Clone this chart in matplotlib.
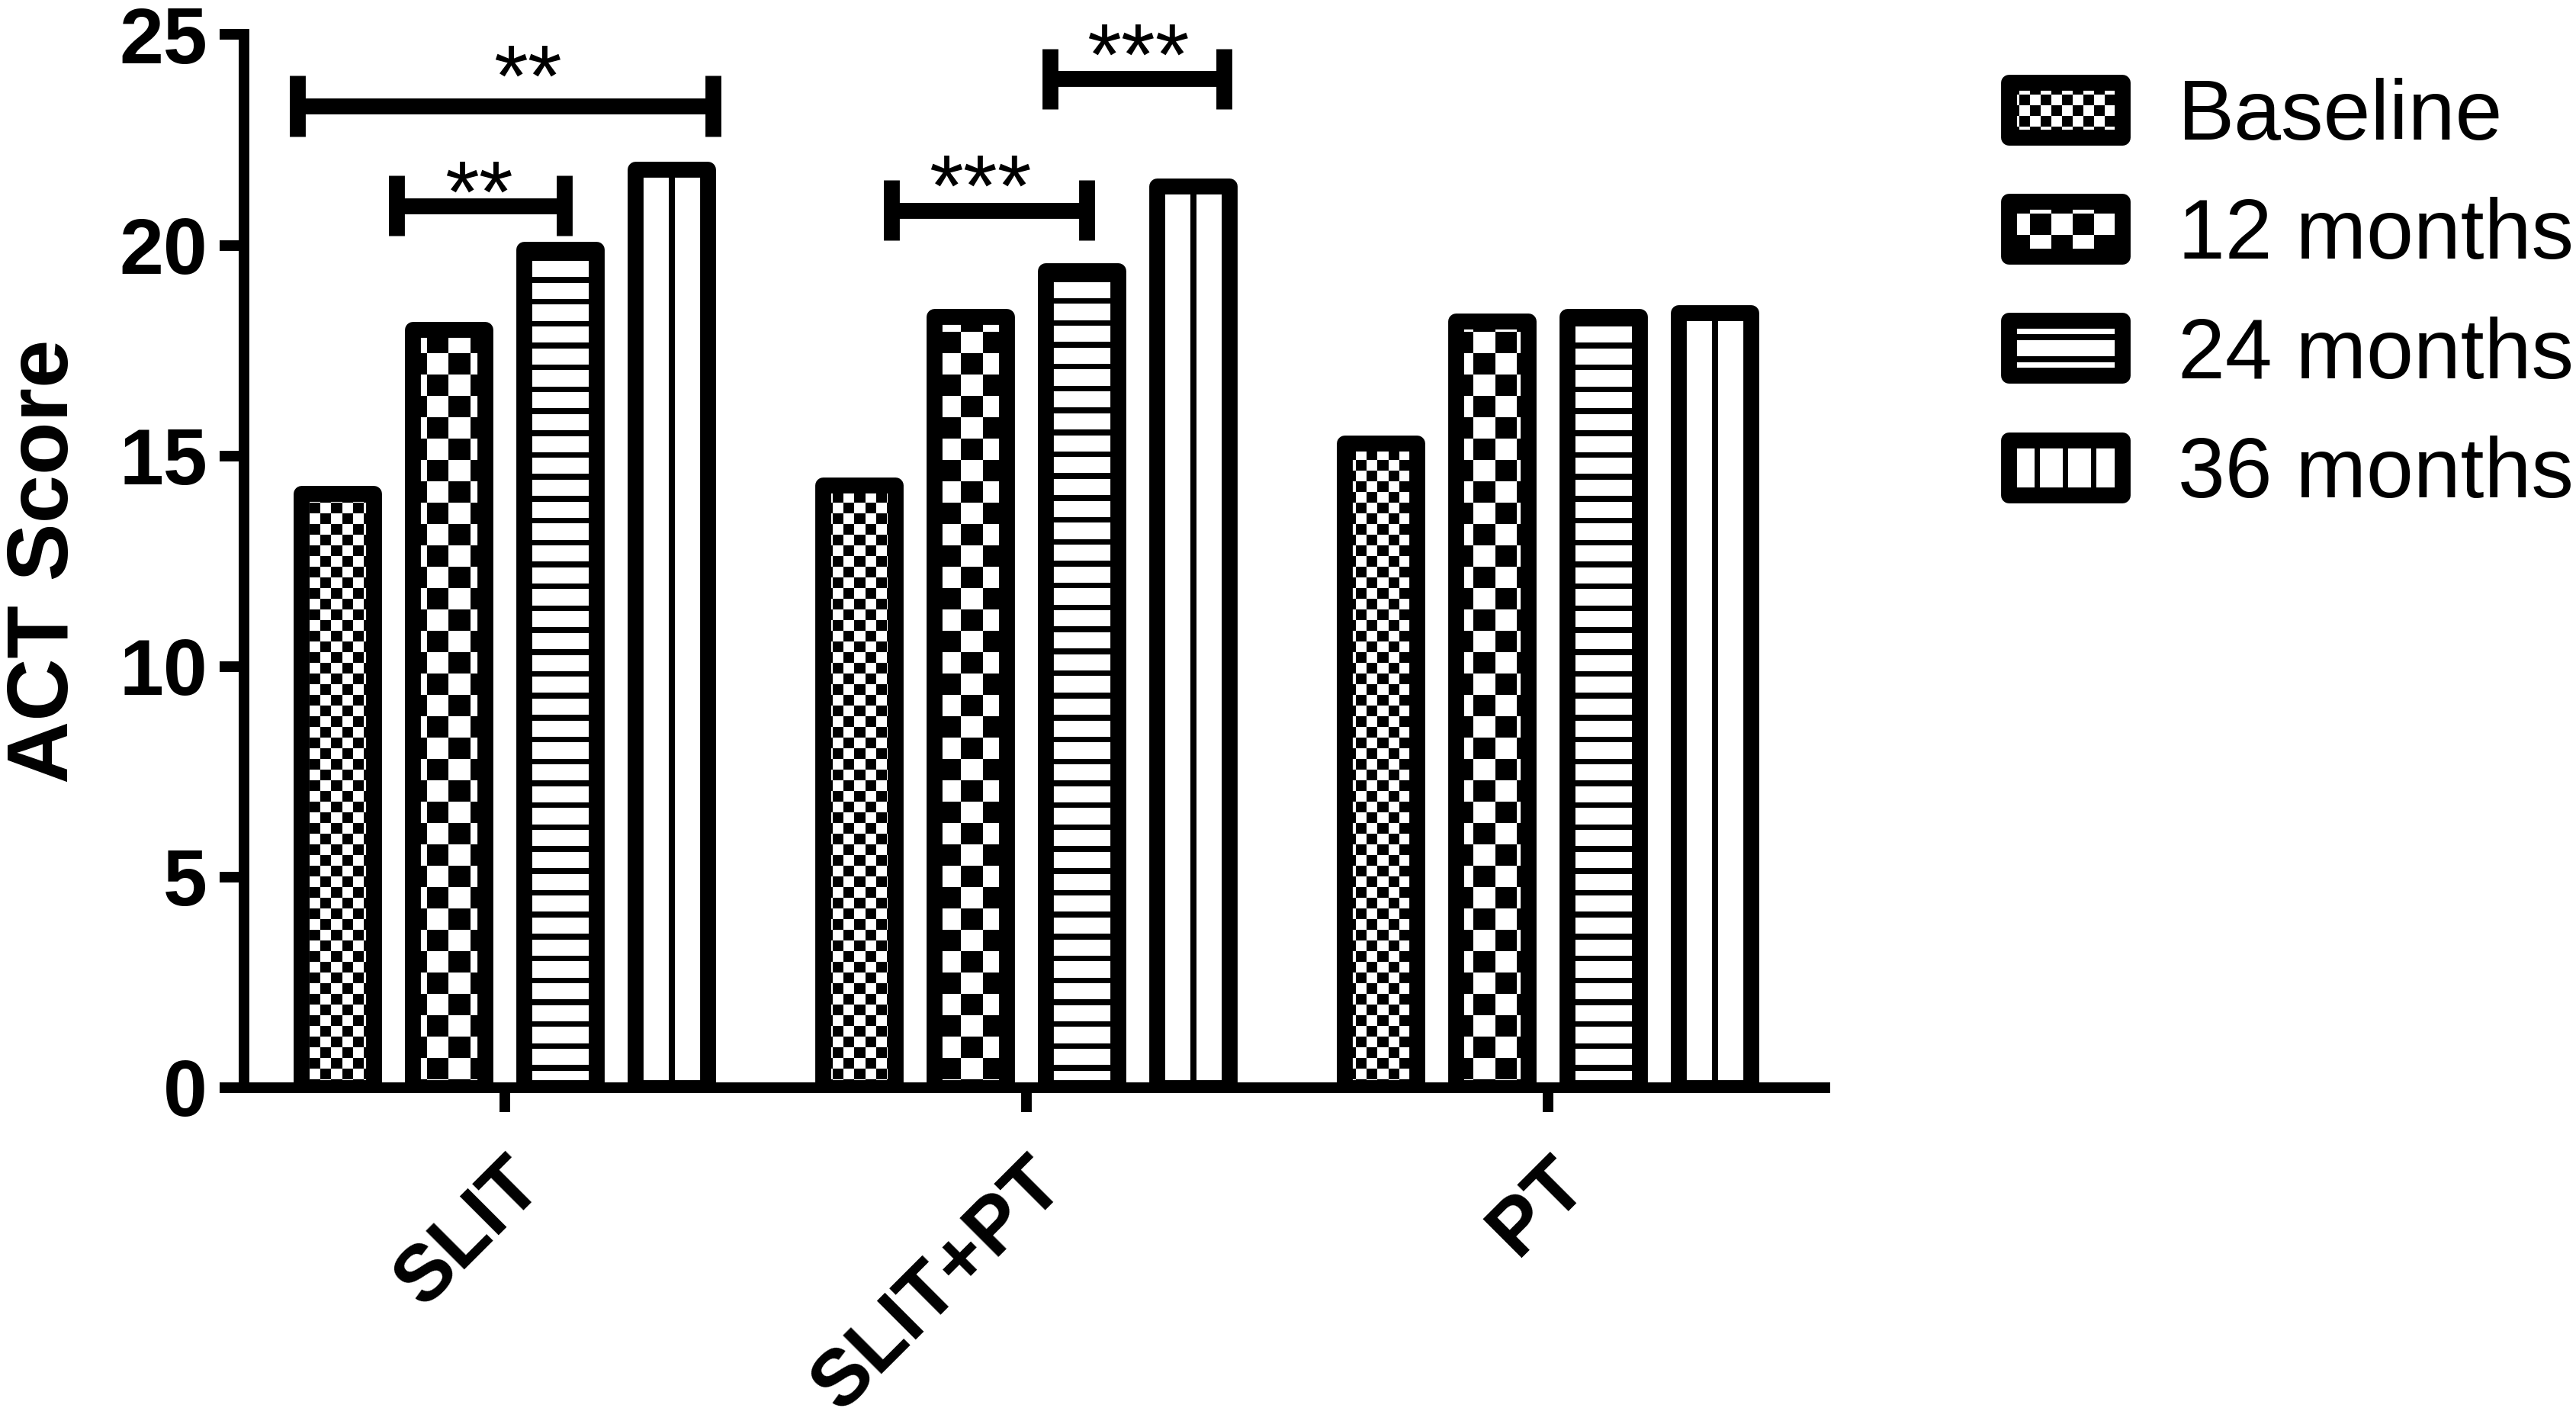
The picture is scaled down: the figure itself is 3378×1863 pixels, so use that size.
import numpy as np
import matplotlib
matplotlib.use('Agg')
import matplotlib.pyplot as plt
from matplotlib.patches import Rectangle
from matplotlib.legend_handler import HandlerBase

# ---------------- data ----------------
groups = ['SLIT', 'SLIT+PT', 'PT']
series = ['Baseline', '12 months', '24 months', '36 months']
baseline = [14.1, 14.3, 15.3]
months12 = [18.0, 18.3, 18.2]
months24 = [19.9, 19.4, 18.3]
months36 = [21.8, 21.4, 18.4]
values = [baseline, months12, months24, months36]
yticks = [0, 5, 10, 15, 20, 25]

# significance brackets (x in group units)
sig_x0 = [-0.398, -0.207, 0.742, 1.046]
sig_x1 = [0.399, 0.114, 1.116, 1.379]
sig_y = [23.31, 20.94, 20.83, 23.95]
sig_text = ['**', '**', '***', '***']
sig_text_x = [0.044, -0.05, 0.911, 1.215]
sig_text_y = [23.31, 20.57, 20.70, 23.83]

# ---------------- style ----------------
DPI = 100
plt.rcParams['font.family'] = ['Liberation Sans', 'DejaVu Sans']
EDGE_LW = 15
PT = 72.0 / DPI
kinds = ['small', 'large', 'hstripe', 'vline']


def pattern_mask(kind, X, Y, cx):
    if kind == 'small':
        c = 14.0
        return ((np.floor(X / c) + np.floor(Y / c)) % 2) == 0
    if kind == 'large':
        c = 28.0
        return ((np.floor(X / c) + np.floor(Y / c)) % 2) == 0
    if kind == 'hstripe':
        return (Y % 28.7) < 7.5
    return np.abs(X - cx) < 3.75


def add_pattern(ax, bar, kind):
    x0 = bar.get_x()
    x1 = x0 + bar.get_width()
    h = bar.get_height()
    (px0, py0), (px1, py1) = ax.transData.transform([(x0, 0), (x1, h)])
    nx = max(int(round(px1 - px0)), 1)
    ny = max(int(round(py1 - py0)), 1)
    XX, YY = np.meshgrid(px0 + np.arange(nx) + 0.5, py0 + np.arange(ny) + 0.5)
    black = pattern_mask(kind, XX, YY, (px0 + px1) / 2)
    img = np.where(black, 0.0, 1.0)
    ax.imshow(img, extent=(x0, x1, 0, h), origin='lower', cmap='gray',
              vmin=0, vmax=1, interpolation='nearest', aspect='auto', zorder=2)


def legend_rects(kind, x0, y0, w, h):
    rects = []
    if kind in ('small', 'large'):
        c = (14.0 if kind == 'small' else 28.0) * PT
        nx = int(np.ceil(w / c))
        ny = int(np.ceil(h / c))
        for i in range(nx):
            for j in range(ny):
                if (i + j) % 2 == 0:
                    rx, ry = x0 + i * c, y0 + j * c
                    rects.append((rx, ry, min(c, x0 + w - rx), min(c, y0 + h - ry)))
    elif kind == 'hstripe':
        p, t = 28.7 * PT, 7.5 * PT
        cy = y0 + h / 2
        for k in (-1.5, -0.5, 0.5, 1.5):
            yc = cy + k * p
            lo, hi = max(yc - t / 2, y0), min(yc + t / 2, y0 + h)
            if hi > lo:
                rects.append((x0, lo, w, hi - lo))
    else:
        p, t = 37.0 * PT, 7.5 * PT
        cx = x0 + w / 2
        for k in (-1, 0, 1):
            rects.append((cx + k * p - t / 2, y0, t, h))
    return rects


class PatternHandler(HandlerBase):
    def __init__(self, kind):
        super().__init__()
        self.kind = kind

    def create_artists(self, legend, orig_handle, xdescent, ydescent,
                       width, height, fontsize, trans):
        x0, y0 = -xdescent, -ydescent
        arts = [Rectangle((x0, y0), width, height, facecolor='white',
                          edgecolor='none', transform=trans)]
        for (rx, ry, rw, rh) in legend_rects(self.kind, x0, y0, width, height):
            arts.append(Rectangle((rx, ry), rw, rh, facecolor='black',
                                  edgecolor='none', lw=0, transform=trans))
        arts.append(Rectangle((x0, y0), width, height, facecolor='none',
                              edgecolor='black', lw=EDGE_LW, joinstyle='round',
                              transform=trans))
        return arts


fig = plt.figure(figsize=(33.78, 18.63), dpi=DPI)
ax = fig.add_axes([0.0947, 0.2346, 0.6137, 0.7410])
XLIM = (-0.5, 2.531)
ax.set_xlim(*XLIM)
ax.set_ylim(0, 25)

x = np.arange(len(groups))
step = 0.2135
width = 0.139
containers = []
for i, (name, vals) in enumerate(zip(series, values)):
    pos = x + (i - 1.5) * step
    bars = ax.bar(pos, vals, width, facecolor='none', edgecolor='black',
                  linewidth=EDGE_LW, joinstyle='round', zorder=3, label=name)
    containers.append(bars)
    for b in bars:
        add_pattern(ax, b, kinds[i])

ax.set_xlim(*XLIM)
ax.set_ylim(0, 25)
ax.set_aspect('auto')

# brackets
CAP = 0.72
for x0_, x1_, y_ in zip(sig_x0, sig_x1, sig_y):
    ax.plot([x0_, x1_], [y_, y_], color='black', lw=15, solid_capstyle='butt',
            clip_on=False, zorder=4)
    for xc in (x0_, x1_):
        ax.plot([xc, xc], [y_ - CAP, y_ + CAP], color='black', lw=15,
                solid_capstyle='butt', clip_on=False, zorder=4)
for tx, ty, t in zip(sig_text_x, sig_text_y, sig_text):
    ax.text(tx, ty, t, ha='center', va='baseline', fontsize=83, clip_on=False,
            zorder=5)

# axes styling
for s in ['top', 'right']:
    ax.spines[s].set_visible(False)
for s in ['left', 'bottom']:
    ax.spines[s].set_linewidth(10)
    ax.spines[s].set_capstyle('projecting')
ax.tick_params(axis='both', which='major', width=10, length=23, direction='out',
               labelsize=75, color='black')
ax.tick_params(axis='y', pad=11.5)
ax.tick_params(axis='x', pad=32)
ax.set_yticks(yticks)
ax.set_yticklabels([str(t) for t in yticks], fontweight='bold')
ax.set_xticks(x)
ax.set_xticklabels(groups, rotation=45, ha='right', va='top',
                   rotation_mode='anchor', fontweight='bold')
ax.set_ylabel('ACT Score', fontsize=82, fontweight='bold')
ax.yaxis.set_label_coords(-0.10, 0.5)

hmap = {c: PatternHandler(k) for c, k in zip(containers, kinds)}
fig.legend(handles=containers, labels=series, loc='upper left',
           bbox_to_anchor=(0.7797, 0.9452), frameon=False, fontsize=80,
           handlelength=1.34, handleheight=0.62, handletextpad=0.66,
           labelspacing=0.47, borderpad=0, borderaxespad=0, handler_map=hmap)

fig.savefig('out.png', dpi=DPI)
